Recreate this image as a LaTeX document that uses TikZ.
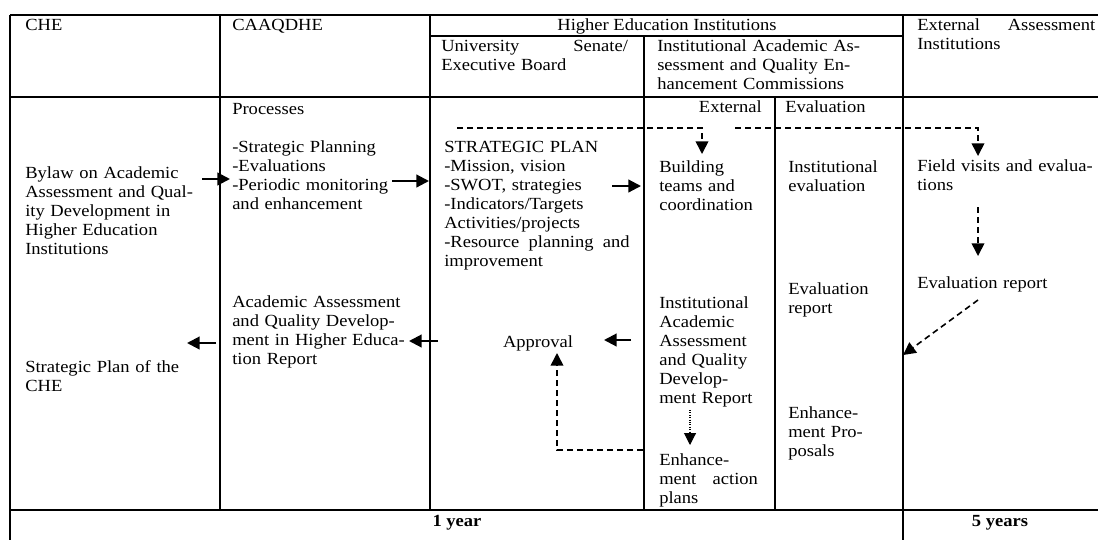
\documentclass[tikz,border=0pt]{standalone}
\usepackage{fontspec}
\setmainfont{Liberation Serif}[FakeStretch=1.09]
\usetikzlibrary{arrows.meta}
\begin{document}
\begin{tikzpicture}[x=0.75pt,y=-0.75pt,
  gridline/.style={line width=2.2pt},
  txt/.style={anchor=base west,inner sep=0pt,align=left,font=\fontsize{12.75}{14.25}\selectfont},
  ctxt/.style={anchor=base,inner sep=0pt,font=\fontsize{12.75}{14.25}\selectfont},
  btxt/.style={anchor=base,inner sep=0pt,font=\fontsize{12.75}{14.25}\selectfont\bfseries},
  sarrow/.style={line width=1.6pt,-{Triangle[length=9.5pt,width=9.5pt]}},
  darrow/.style={line width=1.2pt,dash pattern=on 4.5pt off 3pt,-{Triangle[length=9.5pt,width=9.5pt]}},
  dotarrow/.style={line width=0.8pt,dash pattern=on 0.8pt off 1pt,-{Triangle[length=9pt,width=9pt]}}]
\useasboundingbox (0,0) rectangle (1098,540);
% table lines
\draw[gridline] (10,15) -- (1098,15);
\draw[gridline] (430,36) -- (903,36);
\draw[gridline] (10,97) -- (1098,97);
\draw[gridline] (10,510) -- (1098,510);
\draw[gridline] (10,15) -- (10,540);
\draw[gridline] (220,15) -- (220,510);
\draw[gridline] (430,15) -- (430,510);
\draw[gridline] (644,36) -- (644,510);
\draw[gridline] (775,97) -- (775,510);
\draw[gridline] (903,15) -- (903,540);
% header
\node[txt,text width=139pt] (hche) at (25,30) {CHE};
\node[txt,text width=147pt] (hcaa) at (232,30) {CAAQDHE};
\node[ctxt] (hhei) at (667,30) {Higher Education Institutions};
\node[txt,text width=140pt] (hsen) at (441,51) {University\hfill Senate/\\Executive Board};
\node[txt,text width=160pt] (hcom) at (657,51) {Institutional Academic As-\\sessment and Quality En-\\hancement Commissions};
\node[txt,text width=133.5pt] (hext) at (917,30) {External\hfill Assessment\\Institutions};
% sub row
\node[txt,text width=147pt] (proc) at (232,114) {Processes};
\node[anchor=base east,inner sep=0pt,font=\fontsize{12.75}{14.25}\selectfont] (sext) at (762,112) {External};
\node[txt,text width=110pt] (seval) at (785,112) {Evaluation};
% body
\node[txt,text width=139pt] (bylaw) at (25,178) {Bylaw on Academic\\Assessment and Qual-\\ity Development in\\Higher Education\\Institutions};
\node[txt,text width=139pt] (cheplan) at (25,372) {Strategic Plan of the\\CHE};
\node[txt,text width=147pt] (procs) at (232,152) {-Strategic Planning\\-Evaluations\\-Periodic monitoring\\and enhancement};
\node[txt,text width=147pt] (aaqd) at (232,307) {Academic Assessment\\and Quality Develop-\\ment in Higher Educa-\\tion Report};
\node[txt,text width=139pt] (splan) at (444,152) {STRATEGIC PLAN\\-Mission, vision\\-SWOT, strategies\\-Indicators/Targets\\Activities/projects\\-Resource\hfill planning\hfill and\\improvement};
\node[ctxt] (appr) at (538,347) {Approval};
\node[txt,text width=90pt] (build) at (659,172) {Building\\teams and\\coordination};
\node[txt,text width=90pt] (iaaq) at (659,308) {Institutional\\Academic\\Assessment\\and Quality\\Develop-\\ment Report};
\node[txt,text width=74pt] (enhact) at (659,465) {Enhance-\\ment\hfill action\\plans};
\node[txt,text width=85pt] (ieval) at (788,172) {Institutional\\evaluation};
\node[txt,text width=85pt] (erep) at (788,294) {Evaluation\\report};
\node[txt,text width=85pt] (enhprop) at (788,418) {Enhance-\\ment Pro-\\posals};
\node[txt,text width=135pt] (field) at (917,171) {Field visits and evalua-\\tions};
\node[txt,text width=135pt] (xrep) at (917,288) {Evaluation report};
\node[btxt] (oneyear) at (457,526) {1 year};
\node[btxt] (fiveyears) at (1000,526) {5 years};
% arrow end points
\coordinate (a1s) at (202,179); \coordinate (a1e) at (230,179);
\coordinate (a2s) at (392,181); \coordinate (a2e) at (429,181);
\coordinate (a3s) at (612,186); \coordinate (a3e) at (641,186);
\coordinate (a4s) at (631,340); \coordinate (a4e) at (604,340);
\coordinate (a5s) at (438,341); \coordinate (a5e) at (409,341);
\coordinate (a6s) at (216,343); \coordinate (a6e) at (187,343);
\coordinate (d1s) at (457,128); \coordinate (d1e) at (702,154);
\coordinate (d2s) at (735,128); \coordinate (d2e) at (978,156);
\coordinate (d3s) at (978,207); \coordinate (d3e) at (978,256);
\coordinate (d4s) at (978,300); \coordinate (d4e) at (903,355);
\coordinate (d5s) at (643,450); \coordinate (d5e) at (557,353);
\coordinate (t1s) at (690,410); \coordinate (t1e) at (690,445);
% solid arrows
\draw[sarrow] (a1s) -- (a1e);
\draw[sarrow] (a2s) -- (a2e);
\draw[sarrow] (a3s) -- (a3e);
\draw[sarrow] (a4s) -- (a4e);
\draw[sarrow] (a5s) -- (a5e);
\draw[sarrow] (a6s) -- (a6e);
% dashed arrows
\draw[darrow] (d1s) -| (d1e);
\draw[darrow] (d2s) -| (d2e);
\draw[darrow] (d3s) -- (d3e);
\draw[darrow] (d4s) -- (d4e);
\draw[darrow] (d5s) -| (d5e);
\draw[dotarrow] (t1s) -- (t1e);
\end{tikzpicture}
\end{document}
